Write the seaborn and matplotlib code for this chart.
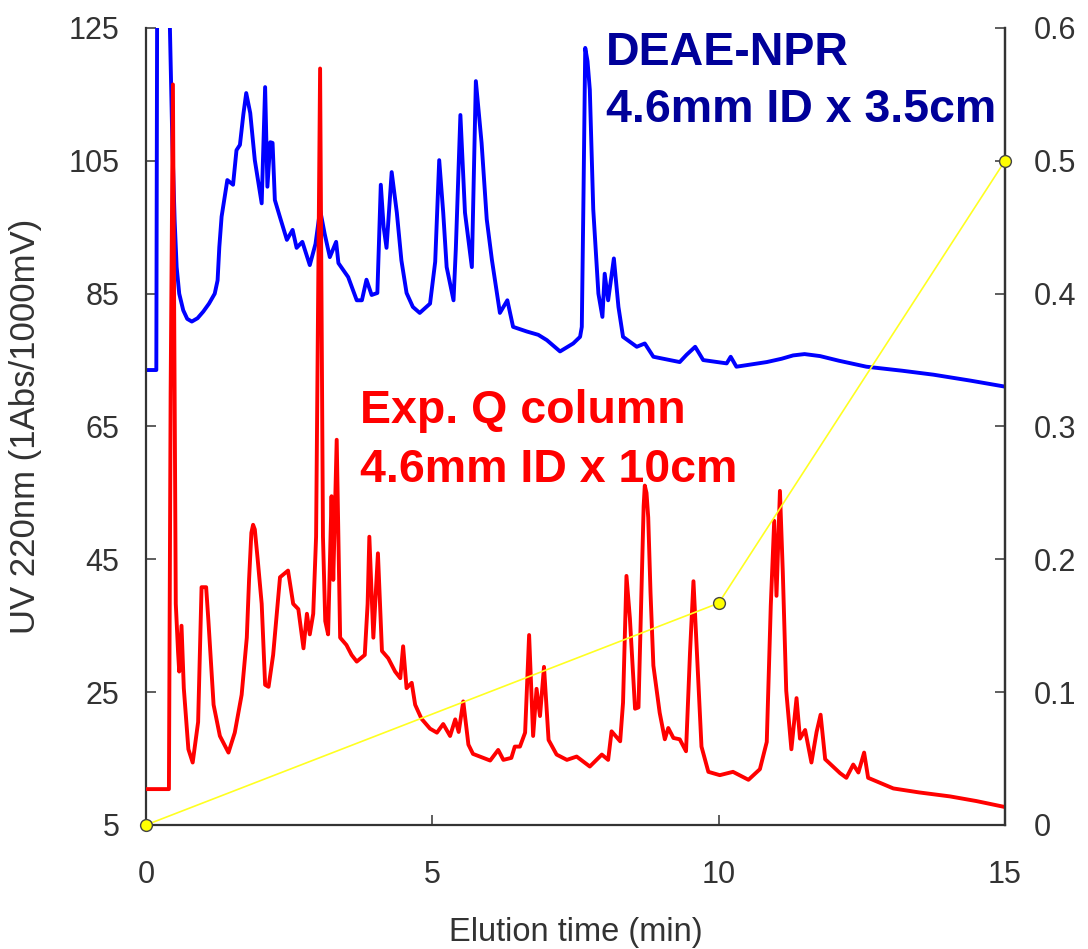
import numpy as np
import pandas as pd
import matplotlib
matplotlib.use("Agg")
import matplotlib.pyplot as plt
from matplotlib.ticker import FixedLocator, FuncFormatter
import seaborn as sns

# ---- chromatogram traces (elution time in min, UV 220 nm signal) ----
deae_time = [0.00, 0.18, 0.20, 0.40, 0.41, 0.46, 0.50, 0.535, 0.58, 0.65,
             0.72, 0.80, 0.90, 1.00, 1.10, 1.20, 1.25, 1.28, 1.32,
             1.42, 1.52, 1.58, 1.64, 1.70, 1.75, 1.82, 1.90, 2.02,
             2.08, 2.12, 2.17, 2.21, 2.25, 2.34, 2.46, 2.56, 2.63, 2.73,
             2.86, 2.96, 3.04, 3.12, 3.21, 3.32, 3.36, 3.53, 3.68, 3.77, 3.85, 3.94,
             4.04, 4.10, 4.15, 4.20, 4.29, 4.38, 4.46, 4.55, 4.66, 4.78, 4.96, 5.05, 5.12,
             5.19, 5.25, 5.37, 5.41, 5.49, 5.57, 5.69, 5.76, 5.86, 5.95,
             6.04, 6.18, 6.31, 6.41, 6.65, 6.85, 7.00, 7.23, 7.46, 7.58, 7.61,
             7.64, 7.67, 7.71, 7.75, 7.81, 7.90, 7.97, 8.01, 8.07, 8.17, 8.25,
             8.33, 8.57, 8.71, 8.86, 9.32, 9.44, 9.59, 9.73, 10.14, 10.21,
             10.31, 10.84, 11.10, 11.30, 11.50, 11.77, 12.10, 12.58, 13.20, 13.75,
             14.40, 15.00]
deae_signal = [73.5, 73.5, 150.0, 150.0, 128.0, 107.7, 96.0, 89.0, 85.0, 82.5,
               81.2, 80.8, 81.3, 82.3, 83.5, 85.0, 87.0, 92.0, 96.6,
               102.1, 101.4, 106.6, 107.4, 112.0, 115.2, 112.2, 105.1, 98.6,
               116.1, 101.1, 107.8, 107.7, 99.1, 96.5, 93.1, 94.6, 91.9, 92.8,
               89.3, 92.5, 97.6, 94.0, 90.5, 92.8, 89.6, 87.5, 84.0, 84.0, 87.1, 84.8,
               85.1, 101.4, 95.0, 91.9, 103.3, 97.2, 90.0, 85.1, 83.0, 82.1, 83.5, 89.8, 105.1,
               97.2, 89.0, 84.0, 91.7, 111.9, 97.2, 89.0, 117.0, 107.7, 96.2,
               90.1, 82.1, 84.0, 80.0, 79.3, 78.8, 78.0, 76.3, 77.5, 78.5, 80.0,
               100.1, 122.0, 120.0, 115.7, 97.7, 85.0, 81.5, 88.0, 84.0, 90.3, 83.0,
               78.5, 77.0, 77.5, 75.5, 74.7, 75.8, 77.0, 75.0, 74.5, 75.5,
               74.0, 74.7, 75.2, 75.7, 75.9, 75.6, 74.9, 74.0, 73.4, 72.8,
               71.9, 71.0]

expq_time = [0.00, 0.40, 0.43, 0.47, 0.50, 0.52, 0.56, 0.58, 0.62, 0.66,
             0.74, 0.815, 0.91, 0.97, 1.05, 1.09, 1.18, 1.29, 1.44, 1.55,
             1.67, 1.76, 1.80, 1.84, 1.87, 1.90, 1.95, 2.02, 2.08, 2.14, 2.22, 2.34,
             2.48, 2.57, 2.66, 2.75, 2.81, 2.86, 2.92, 2.97, 3.04, 3.09,
             3.13, 3.18, 3.24, 3.27, 3.33, 3.39, 3.50, 3.59, 3.68, 3.82,
             3.87, 3.90, 3.97, 4.05, 4.12, 4.23, 4.35, 4.44, 4.49, 4.55,
             4.64, 4.70, 4.81, 4.96, 5.08, 5.19, 5.31, 5.40, 5.46, 5.54,
             5.63, 5.71, 5.83, 6.01, 6.15, 6.24, 6.38, 6.44, 6.53, 6.62,
             6.69, 6.76, 6.82, 6.88, 6.95, 7.03, 7.17, 7.35, 7.52, 7.75,
             7.96, 8.07, 8.13, 8.28, 8.33, 8.39, 8.45, 8.54, 8.60, 8.67,
             8.69, 8.71, 8.74, 8.77, 8.81, 8.86, 8.97, 9.06, 9.12, 9.21, 9.32, 9.43, 9.50,
             9.56, 9.62, 9.70, 9.82, 10.02, 10.25, 10.52, 10.72, 10.84, 10.91,
             10.97, 11.01, 11.07, 11.12, 11.18, 11.27, 11.36, 11.42, 11.51, 11.62,
             11.71, 11.78, 11.86, 12.12, 12.23, 12.35, 12.44, 12.54, 12.61, 13.05,
             13.50, 14.04, 14.50, 15.00]
expq_signal = [10.4, 10.4, 70.0, 116.5, 70.0, 38.3, 31.0, 28.1, 35.0, 25.6,
               16.4, 14.4, 20.5, 40.8, 40.8, 35.7, 23.1, 18.4, 15.9, 18.9,
               24.6, 33.2, 42.0, 49.0, 50.2, 49.5, 45.0, 38.3, 26.1, 25.8, 30.6, 42.3,
               43.3, 38.3, 37.5, 31.6, 36.8, 33.7, 36.8, 48.4, 118.9, 48.4,
               35.7, 33.7, 54.5, 41.9, 63.0, 33.2, 32.1, 30.6, 29.6, 30.6,
               38.3, 48.4, 33.2, 45.9, 31.2, 30.1, 28.1, 27.1, 31.9, 25.6,
               26.4, 23.1, 21.0, 19.5, 18.9, 20.2, 18.4, 20.9, 19.0, 23.6,
               17.1, 15.7, 15.3, 14.7, 16.3, 14.8, 15.1, 16.8, 16.8, 18.9,
               33.6, 18.4, 25.5, 21.4, 28.8, 17.8, 15.6, 14.8, 15.3, 13.8,
               15.6, 14.8, 19.1, 17.6, 23.4, 42.5, 36.1, 22.5, 22.7, 46.3,
               53.0, 56.1, 55.0, 51.3, 40.0, 29.0, 21.9, 17.9, 19.6, 18.1, 17.9, 16.1, 31.0,
               41.7, 31.0, 16.8, 13.0, 12.5, 13.0, 11.8, 13.4, 17.5, 38.0,
               50.8, 39.5, 55.3, 43.1, 25.2, 16.4, 24.1, 18.0, 19.3, 14.4,
               19.0, 21.6, 14.9, 12.8, 12.1, 14.1, 12.9, 15.9, 12.1, 10.5,
               9.9, 9.3, 8.6, 7.7]

# ---- salt gradient program (right axis) ----
gradient_time = [0, 10, 15]
gradient_level = [0.0, 0.167, 0.5]

# ---- axis ticks ----
x_ticks = [0, 5, 10, 15]
left_ticks = [5, 25, 45, 65, 85, 105, 125]
right_ticks = [0.0, 0.1, 0.2, 0.3, 0.4, 0.5, 0.6]

deae_df = pd.DataFrame({"time": deae_time, "signal": deae_signal})
expq_df = pd.DataFrame({"time": expq_time, "signal": expq_signal})
grad_df = pd.DataFrame({"time": gradient_time, "level": gradient_level})

sns.set_style("white")
plt.rcParams["font.family"] = ["Liberation Sans", "DejaVu Sans"]

fig = plt.figure(figsize=(10.88, 9.49), dpi=100, facecolor="white")
ax = fig.add_axes([0.1342, 0.1307, 0.9237 - 0.1342, 0.9705 - 0.1307])
ax.set_facecolor("white")

trace_kw = dict(sort=False, estimator=None, linewidth=2.8,
                solid_joinstyle="round", solid_capstyle="round")
sns.lineplot(data=deae_df, x="time", y="signal", ax=ax, color="#0000ff",
             zorder=2, **trace_kw)
sns.lineplot(data=expq_df, x="time", y="signal", ax=ax, color="#ff0000",
             zorder=3, **trace_kw)

ax.set_xlim(0, 15)
ax.set_ylim(5, 125)
ax.xaxis.set_major_locator(FixedLocator(x_ticks))
ax.yaxis.set_major_locator(FixedLocator(left_ticks))

spine_col = "#333333"
tick_col = "#333333"
for side in ["left", "bottom", "right"]:
    ax.spines[side].set_visible(True)
    ax.spines[side].set_color(spine_col)
    ax.spines[side].set_linewidth(1.6)
ax.spines["top"].set_visible(False)

ax.tick_params(axis="x", direction="in", length=7, width=1.1, color=spine_col,
               labelsize=22, labelcolor=tick_col, pad=25, bottom=True)
ax.tick_params(axis="y", direction="in", length=7, width=1.1, color=spine_col,
               labelsize=22, labelcolor=tick_col, pad=19, left=True)

ax.set_xlabel("Elution time (min)", fontsize=23.5, color=tick_col)
ax.set_ylabel("UV 220nm (1Abs/1000mV)", fontsize=25, color=tick_col)
ax.xaxis.set_label_coords(0.5, -0.116)
ax.xaxis.label.set_va("top")
ax.yaxis.set_label_coords(-0.121, 0.5)

# gradient on a twin axis
ax2 = ax.twinx()
sns.lineplot(data=grad_df, x="time", y="level", ax=ax2, sort=False,
             estimator=None, color="#ffff22", linewidth=1.2, marker="o",
             markersize=8.5, markerfacecolor="#ffff00",
             markeredgecolor="#444444", markeredgewidth=1.0, clip_on=False,
             zorder=5)
ax2.set_ylim(0, 0.6)
ax2.set_xlim(0, 15)
ax2.yaxis.set_major_locator(FixedLocator(right_ticks))
ax2.yaxis.set_major_formatter(FuncFormatter(lambda v, p: "0" if abs(v) < 1e-9 else f"{v:.1f}"))
ax2.set_ylabel("")
for side in ["top", "left", "bottom"]:
    ax2.spines[side].set_visible(False)
ax2.spines["right"].set_visible(True)
ax2.spines["right"].set_color(spine_col)
ax2.spines["right"].set_linewidth(1.6)
ax2.tick_params(axis="y", direction="in", length=7, width=1.1, color=spine_col,
                labelsize=22, labelcolor=tick_col, pad=21, right=True)
ax.tick_params(axis="y", right=False)

# column annotations
ax.text(0.5355, 0.9536, "DEAE-NPR", transform=ax.transAxes, color="#000099",
        fontsize=33.5, fontweight="bold", ha="left", va="baseline", zorder=6)
ax.text(0.5355, 0.8824, "4.6mm ID x 3.5cm", transform=ax.transAxes, color="#000099",
        fontsize=33.5, fontweight="bold", ha="left", va="baseline", zorder=6)
ax.text(0.2491, 0.504, "Exp. Q column", transform=ax.transAxes, color="#ff0000",
        fontsize=33.5, fontweight="bold", ha="left", va="baseline", zorder=6)
ax.text(0.2491, 0.4307, "4.6mm ID x 10cm", transform=ax.transAxes, color="#ff0000",
        fontsize=33.5, fontweight="bold", ha="left", va="baseline", zorder=6)

fig.savefig("out.png", dpi=100, facecolor="white")
